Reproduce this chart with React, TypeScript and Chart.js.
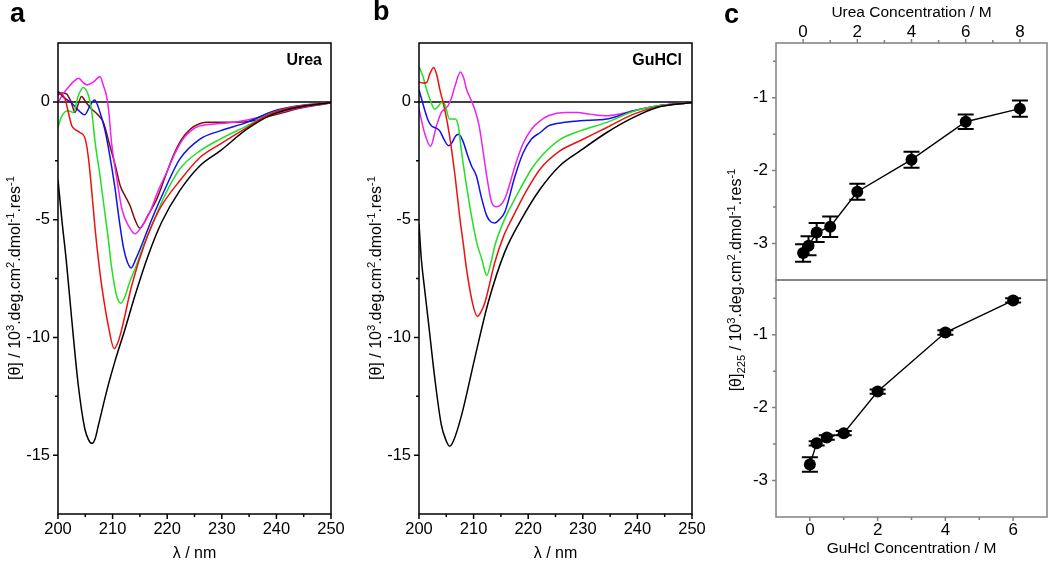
import React, { useEffect, useRef } from "react";
import { Chart, registerables } from "chart.js";
Chart.register(...registerables);

const FONT = "'Liberation Sans', Arial, Helvetica, sans-serif";

// ---------------- Panel a (Urea) CD spectra ----------------
const aBlackWl = [200, 200.7, 201.5, 202.5, 203.7, 204.9, 205.6, 206.2, 206.8, 207.4, 209.2, 210.4, 212.3, 214.1, 216.5, 219, 222.3, 226, 229.7, 234.6, 239.4, 243.7, 250];
const aBlackVal = [-3.3, -5.0, -6.7, -9.2, -12.0, -13.87, -14.35, -14.5, -14.3, -13.73, -12.03, -11.04, -9.63, -8.22, -6.53, -5.1, -3.77, -2.71, -2.08, -1.16, -0.52, -0.24, -0.03];

const aRedWl = [200, 200.4, 201.3, 201.9, 202.5, 203.3, 204, 205, 205.6, 206.2, 206.8, 207.4, 208, 209.2, 210.3, 211, 211.7, 213.5, 215.9, 218.5, 222.3, 226, 229.7, 234.6, 239.4, 243.7, 250];
const aRedVal = [0.3, 0.33, 0.11, -0.45, -1.0, -1.2, -1.3, -1.58, -2.43, -3.84, -5.4, -6.7, -7.8, -9.49, -10.48, -10.2, -9.63, -7.8, -6.0, -4.6, -3.35, -2.36, -1.79, -1.09, -0.45, -0.2, -0.03];

const aGreenWl = [200, 200.5, 201.3, 201.9, 202.8, 203.7, 204.6, 205.6, 206.2, 206.8, 207.7, 208.6, 209.2, 209.8, 210.7, 211.5, 212.2, 213.2, 214.1, 215.5, 217.2, 219.5, 222.3, 226, 229.7, 234.6, 239.4, 243.7, 250];
const aGreenVal = [-1.09, -0.7, -0.42, -0.38, -0.45, 0.25, 0.61, 0.25, -0.45, -1.72, -3.14, -4.75, -5.8, -7.0, -8.2, -8.55, -8.3, -7.6, -7.1, -6.2, -5.25, -4.0, -2.85, -2.08, -1.58, -1.02, -0.45, -0.2, -0.03];

const aBlueWl = [200, 201, 202.5, 203.7, 204.9, 205.9, 206.7, 207.7, 208.6, 209.5, 210.4, 211.2, 212, 212.7, 213.4, 214.2, 215.3, 217.2, 219.6, 222.3, 226, 229.7, 234.6, 239.4, 243.7, 250];
const aBlueVal = [0.45, 0.2, -0.05, -0.35, -0.55, -0.15, 0.08, -0.45, -1.2, -2.3, -3.6, -5.0, -6.2, -6.8, -7.05, -6.7, -6.1, -4.97, -3.7, -2.43, -1.58, -1.23, -0.87, -0.4, -0.18, -0.03];

const aMagentaWl = [200, 200.8, 201.6, 202.8, 203.8, 204.5, 205.3, 206.5, 207.7, 208.3, 208.9, 209.3, 209.8, 210.7, 211.7, 213, 214.1, 215, 216.8, 218.3, 219.9, 221.4, 222.9, 224.5, 226, 229, 232.1, 235, 238.2, 241, 244.3, 250];
const aMagentaVal = [-0.05, 0.3, 0.54, 0.85, 1.0, 0.85, 0.72, 0.85, 1.08, 0.7, 0.25, -0.4, -1.72, -3.14, -4.55, -5.3, -5.6, -5.4, -4.69, -3.8, -2.99, -2.2, -1.58, -1.2, -1.02, -0.93, -0.87, -0.75, -0.59, -0.42, -0.24, -0.03];

const aBrownWl = [200, 200.8, 201.6, 202.4, 203.1, 203.7, 204.3, 205.2, 206.2, 207.3, 208.3, 209.5, 210.5, 211.4, 212.3, 213.2, 214.1, 215, 216.5, 218.1, 219.6, 221.1, 222.6, 224.2, 225.7, 227.2, 232.1, 235.8, 238.5, 241.3, 244, 250];
const aBrownVal = [0.36, 0.38, 0.33, 0.0, -0.45, -0.1, 0.23, -0.05, -0.31, -0.55, -0.87, -1.86, -2.7, -3.56, -4.0, -4.41, -5.0, -5.36, -4.8, -4.12, -3.2, -2.29, -1.6, -1.16, -0.95, -0.87, -0.87, -0.8, -0.62, -0.45, -0.28, -0.05];

// ---------------- Panel b (GuHCl) CD spectra ----------------
const bBlackWl = [200, 200.4, 201, 201.7, 202.9, 204.1, 205, 205.6, 206.3, 207.8, 210.2, 212.7, 215.7, 218.8, 222.2, 225.8, 229.5, 234.4, 239.3, 243.6, 250];
const bBlackVal = [-5.18, -6.6, -7.9, -9.3, -11.75, -13.73, -14.4, -14.62, -14.4, -13.3, -10.9, -8.5, -6.38, -4.97, -3.7, -2.71, -2.08, -1.3, -0.66, -0.24, -0.03];

const bRedWl = [200, 200.7, 201.4, 202, 202.7, 203.3, 203.8, 204.7, 205.6, 206.6, 207.5, 208.1, 208.7, 209.9, 210.7, 211.4, 212.1, 213.9, 215.5, 217, 219.5, 222.2, 225.8, 229.5, 234.4, 239.3, 243.6, 250];
const bRedVal = [0.85, 0.8, 0.82, 1.2, 1.46, 1.1, 0.54, -0.31, -1.44, -3.14, -4.97, -6.0, -7.09, -8.64, -9.11, -8.9, -8.5, -6.8, -5.7, -4.97, -3.85, -2.85, -2.08, -1.65, -1.09, -0.52, -0.22, -0.03];

const bGreenWl = [200, 200.7, 201.3, 202, 202.9, 203.5, 204.1, 204.7, 205.6, 206.6, 207.2, 207.8, 208.7, 209.6, 210.6, 211.5, 212.4, 213.2, 213.9, 215.7, 217.6, 220.6, 222.2, 223.7, 225.8, 229.5, 234.4, 239.3, 243.6, 250];
const bGreenVal = [1.5, 1.1, 0.6, 0.11, -0.31, -0.2, -0.03, -0.1, -0.73, -0.73, -1.02, -2.14, -3.56, -4.83, -6.0, -6.67, -7.37, -6.8, -6.1, -4.97, -4.1, -2.85, -2.36, -2.0, -1.6, -1.23, -0.87, -0.4, -0.18, -0.03];

const bBlueWl = [200, 200.5, 201, 201.7, 202.3, 203, 203.8, 204.6, 205.4, 206, 206.7, 207.3, 208.1, 208.8, 209.6, 210.5, 211.5, 212.4, 213.2, 213.9, 214.7, 215.7, 217.6, 219, 220.6, 222.2, 223.7, 226.7, 229.5, 234.4, 239.3, 243.6, 250];
const bBlueVal = [0.51, 0.1, -0.31, -0.8, -1.02, -1.1, -1.23, -1.6, -1.86, -1.75, -1.45, -1.37, -1.7, -2.2, -2.71, -3.14, -4.12, -4.83, -5.1, -5.14, -5.0, -4.69, -3.14, -2.2, -1.58, -1.3, -1.02, -0.87, -0.8, -0.73, -0.38, -0.17, -0.03];

const bMagentaWl = [200, 201, 202.1, 203.2, 204.1, 205.3, 206, 206.6, 207.6, 208.2, 208.7, 209.5, 210.2, 211, 211.5, 212.4, 213.3, 214.2, 215.7, 217.6, 219, 220.6, 222.2, 223.7, 226.7, 229, 231.3, 234.4, 237, 239.3, 243.6, 250];
const bMagentaVal = [-0.31, -1.3, -1.89, -1.02, -0.45, -0.17, 0.2, 0.68, 1.27, 1.0, 0.54, 0.1, -0.31, -1.0, -1.72, -3.14, -4.26, -4.45, -4.12, -2.71, -1.8, -1.16, -0.8, -0.59, -0.45, -0.45, -0.52, -0.59, -0.5, -0.38, -0.17, -0.03];

// ---------------- Panel c: theta225 vs denaturant ----------------
const ureaConc = [0, 0.2, 0.5, 1, 2, 4, 6, 8];
const ureaTheta = [-3.13, -3.03, -2.85, -2.77, -2.29, -1.85, -1.33, -1.15];
const ureaErr = [0.12, 0.13, 0.13, 0.14, 0.11, 0.11, 0.1, 0.11];

const guhclConc = [0, 0.2, 0.5, 1, 2, 4, 6];
const guhclTheta = [-2.78, -2.49, -2.41, -2.35, -1.78, -0.97, -0.53];
const guhclErr = [0.1, 0.03, 0.03, 0.03, 0.03, 0.03, 0.03];

// ---------------- Tick values ----------------
const specXMajor = [200, 210, 220, 230, 240, 250];
const specXMinor = [205, 215, 225, 235, 245];
const specYMajor = [-15, -10, -5, 0];
const specYMinor = [-12.5, -7.5, -2.5];
const ureaXMajor = [0, 2, 4, 6, 8];
const ureaXMinor = [1, 3, 5, 7];
const guhclXMajor = [0, 2, 4, 6];
const guhclXMinor = [1, 3, 5];
const cYMajor = [-3, -2, -1];
const cYMinor = [-2.5, -1.5, -0.5];

const COLORS = {
  black: "#000000",
  red: "#ee1111",
  green: "#22e022",
  blue: "#1010ee",
  magenta: "#ee22ee",
  brown: "#7a1010",
};

const pts = (xs: number[], ys: number[]) => xs.map((x, i) => ({ x, y: ys[i] }));

function axis(o: any) {
  return {
    type: "linear",
    position: o.position,
    min: o.min,
    max: o.max,
    afterBuildTicks: (s: any) => {
      s.ticks = o.ticks.map((v: number) => ({ value: v }));
    },
    afterFit: (s: any) => {
      if (o.position === "left") s.width = o.size;
      else s.height = o.size;
      s.paddingTop = 0;
      s.paddingBottom = 0;
      s.paddingLeft = 0;
      s.paddingRight = 0;
    },
    grid: { display: false, drawTicks: false },
    border: { display: false },
    ticks: {
      color: "#000",
      font: { family: FONT, size: o.fontSize },
      padding: o.padding,
      callback: (v: any) => String(v),
    },
    title: o.title
      ? {
          display: true,
          text: o.title,
          color: "#000",
          font: { family: FONT, size: o.titleSize },
          padding: o.titlePadding,
        }
      : { display: false },
  };
}

function decor(o: any) {
  return {
    id: "decor",
    beforeDatasetsDraw(chart: any) {
      if (!o.zeroLine) return;
      const { ctx, chartArea: ca } = chart;
      const y = chart.scales.y.getPixelForValue(0);
      ctx.save();
      ctx.strokeStyle = "#000";
      ctx.lineWidth = 1.5;
      ctx.beginPath();
      ctx.moveTo(ca.left, y);
      ctx.lineTo(ca.right, y);
      ctx.stroke();
      ctx.restore();
    },
    afterDatasetsDraw(chart: any) {
      const { ctx, chartArea: ca } = chart;
      ctx.save();
      if (o.errors) {
        const xs = chart.scales.x;
        const ys = chart.scales.y;
        ctx.strokeStyle = "#000";
        ctx.lineWidth = 2;
        ctx.beginPath();
        o.errors.x.forEach((xv: number, i: number) => {
          const px = xs.getPixelForValue(xv);
          const y1 = ys.getPixelForValue(o.errors.y[i] + o.errors.e[i]);
          const y2 = ys.getPixelForValue(o.errors.y[i] - o.errors.e[i]);
          ctx.moveTo(px, y1);
          ctx.lineTo(px, y2);
          ctx.moveTo(px - 8, y1);
          ctx.lineTo(px + 8, y1);
          ctx.moveTo(px - 8, y2);
          ctx.lineTo(px + 8, y2);
        });
        ctx.stroke();
      }
      ctx.strokeStyle = o.color;
      ctx.lineWidth = 1.5;
      ctx.strokeRect(ca.left, ca.top, ca.right - ca.left, ca.bottom - ca.top);
      ctx.beginPath();
      for (const m of o.marks) {
        const s = chart.scales[m.scale];
        for (const v of m.values) {
          const p = s.getPixelForValue(v);
          if (m.side === "bottom") {
            ctx.moveTo(p, ca.bottom);
            ctx.lineTo(p, ca.bottom + m.len);
          } else if (m.side === "top") {
            ctx.moveTo(p, ca.top);
            ctx.lineTo(p, ca.top - m.len);
          } else {
            ctx.moveTo(ca.left, p);
            ctx.lineTo(ca.left - m.len, p);
          }
        }
      }
      ctx.stroke();
      ctx.restore();
    },
  };
}

function spectrumConfig(series: any[], yAxisWidth: number, rightPad: number) {
  return {
    type: "line",
    data: {
      datasets: series.map((s) => ({
        data: pts(s.wl, s.val),
        borderColor: s.color,
        borderWidth: 1.5,
        pointRadius: 0,
        fill: false,
        cubicInterpolationMode: "monotone",
      })),
    },
    options: {
      animation: false,
      responsive: false,
      devicePixelRatio: 1,
      events: [],
      layout: { autoPadding: false, padding: { top: 43, right: rightPad, left: 0, bottom: 0 } },
      plugins: { legend: { display: false }, tooltip: { enabled: false } },
      scales: {
        x: axis({
          position: "bottom", min: 200, max: 250, ticks: specXMajor, size: 55,
          fontSize: 16.5, padding: 6, title: "\u03bb / nm", titleSize: 16,
          titlePadding: { top: 0, bottom: 6 },
        }),
        y: axis({
          position: "left", min: -17.5, max: 2.5, ticks: specYMajor, size: yAxisWidth,
          fontSize: 16.5, padding: 8,
        }),
      },
    },
    plugins: [
      decor({
        zeroLine: true,
        color: "#000",
        marks: [
          { scale: "x", side: "bottom", values: specXMajor, len: 5 },
          { scale: "x", side: "bottom", values: specXMinor, len: 3 },
          { scale: "y", side: "left", values: specYMajor, len: 5 },
          { scale: "y", side: "left", values: specYMinor, len: 3 },
        ],
      }),
    ],
  };
}

function denatConfig(o: any) {
  return {
    type: "line",
    data: {
      datasets: [
        {
          data: pts(o.x, o.y),
          borderColor: "#000",
          borderWidth: 1.4,
          pointRadius: 6,
          pointBackgroundColor: "#000",
          pointBorderWidth: 0,
          fill: false,
          tension: 0,
        },
      ],
    },
    options: {
      animation: false,
      responsive: false,
      devicePixelRatio: 1,
      events: [],
      layout: { autoPadding: false, padding: o.padding },
      plugins: { legend: { display: false }, tooltip: { enabled: false } },
      scales: {
        x: axis({
          position: o.xPos, min: -1, max: o.xMax, ticks: o.xMajor, size: o.xSize,
          fontSize: 17, padding: o.tickPad, title: o.title, titleSize: 15.5,
          titlePadding: o.titlePadding,
        }),
        y: axis({
          position: "left", min: -3.5, max: -0.25, ticks: cYMajor, size: 76,
          fontSize: 17, padding: 8,
        }),
      },
    },
    plugins: [
      decor({
        zeroLine: false,
        color: "#808080",
        errors: { x: o.x, y: o.y, e: o.err },
        marks: [
          { scale: "x", side: o.xPos, values: o.xMajor, len: 4 },
          { scale: "x", side: o.xPos, values: o.xMinor, len: 3 },
          { scale: "y", side: "left", values: cYMajor, len: 4 },
          { scale: "y", side: "left", values: cYMinor, len: 3 },
        ],
      }),
    ],
  };
}

function ChartCanvas(props: { left: number; top: number; width: number; height: number; make: () => any }) {
  const ref = useRef<HTMLCanvasElement>(null);
  useEffect(() => {
    const chart = new Chart(ref.current as HTMLCanvasElement, props.make());
    return () => chart.destroy();
  }, []);
  return (
    <canvas
      ref={ref}
      width={props.width}
      height={props.height}
      style={{ position: "absolute", left: props.left, top: props.top, width: props.width, height: props.height }}
    />
  );
}

const textBase: React.CSSProperties = {
  position: "absolute",
  fontFamily: FONT,
  color: "#000",
  whiteSpace: "nowrap",
};

function YLabel(props: { cx: number; cy: number; sub?: string }) {
  const supS: React.CSSProperties = { fontSize: "70%", verticalAlign: "super", lineHeight: 0 };
  const subS: React.CSSProperties = { fontSize: "70%", verticalAlign: "sub", lineHeight: 0 };
  return (
    <div
      style={{
        ...textBase,
        left: props.cx,
        top: props.cy,
        fontSize: 16,
        lineHeight: "18px",
        transform: "translate(-50%, -50%) rotate(-90deg)",
      }}
    >
      [θ]{props.sub ? <span style={subS}>{props.sub}</span> : null} / 10<span style={supS}>3</span>.deg.cm
      <span style={supS}>2</span>.dmol<span style={supS}>-1</span>.res<span style={supS}>-1</span>
    </div>
  );
}

export default function App() {
  const seriesA = [
    { wl: aBlackWl, val: aBlackVal, color: COLORS.black },
    { wl: aRedWl, val: aRedVal, color: COLORS.red },
    { wl: aGreenWl, val: aGreenVal, color: COLORS.green },
    { wl: aBlueWl, val: aBlueVal, color: COLORS.blue },
    { wl: aMagentaWl, val: aMagentaVal, color: COLORS.magenta },
    { wl: aBrownWl, val: aBrownVal, color: COLORS.brown },
  ];
  const seriesB = [
    { wl: bBlackWl, val: bBlackVal, color: COLORS.black },
    { wl: bRedWl, val: bRedVal, color: COLORS.red },
    { wl: bGreenWl, val: bGreenVal, color: COLORS.green },
    { wl: bBlueWl, val: bBlueVal, color: COLORS.blue },
    { wl: bMagentaWl, val: bMagentaVal, color: COLORS.magenta },
  ];
  return (
    <div style={{ position: "absolute", left: 0, top: 0, width: 1050, height: 569, background: "#fff", overflow: "hidden" }}>
      <ChartCanvas left={0} top={0} width={350} height={569} make={() => spectrumConfig(seriesA, 58, 19)} />
      <ChartCanvas left={350} top={0} width={360} height={569} make={() => spectrumConfig(seriesB, 69, 18)} />
      <ChartCanvas
        left={700}
        top={0}
        width={350}
        height={282}
        make={() =>
          denatConfig({
            x: ureaConc, y: ureaTheta, err: ureaErr, xPos: "top", xMax: 9,
            xMajor: ureaXMajor, xMinor: ureaXMinor, xSize: 43, tickPad: 0,
            title: "Urea Concentration / M", titlePadding: { top: 3, bottom: 0 },
            padding: { top: 0, bottom: 2, left: 0, right: 3 },
          })
        }
      />
      <ChartCanvas
        left={700}
        top={278}
        width={350}
        height={291}
        make={() =>
          denatConfig({
            x: guhclConc, y: guhclTheta, err: guhclErr, xPos: "bottom", xMax: 7,
            xMajor: guhclXMajor, xMinor: guhclXMinor, xSize: 52, tickPad: 3,
            title: "GuHcl Concentration / M", titlePadding: { top: 0, bottom: 11 },
            padding: { top: 2, bottom: 0, left: 0, right: 3 },
          })
        }
      />
      <div style={{ ...textBase, left: 10, top: 0, fontSize: 27, fontWeight: "bold", lineHeight: "27px" }}>a</div>
      <div style={{ ...textBase, left: 373, top: -2, fontSize: 27, fontWeight: "bold", lineHeight: "27px" }}>b</div>
      <div style={{ ...textBase, left: 724, top: 1, fontSize: 27, fontWeight: "bold", lineHeight: "27px" }}>c</div>
      <div style={{ ...textBase, right: 1050 - 322, top: 51.5, fontSize: 16, fontWeight: "bold", lineHeight: "16px" }}>Urea</div>
      <div style={{ ...textBase, right: 1050 - 682, top: 51.5, fontSize: 16, fontWeight: "bold", lineHeight: "16px" }}>GuHCl</div>
      <YLabel cx={15} cy={278} />
      <YLabel cx={376} cy={278} />
      <YLabel cx={736} cy={280} sub="225" />
    </div>
  );
}
